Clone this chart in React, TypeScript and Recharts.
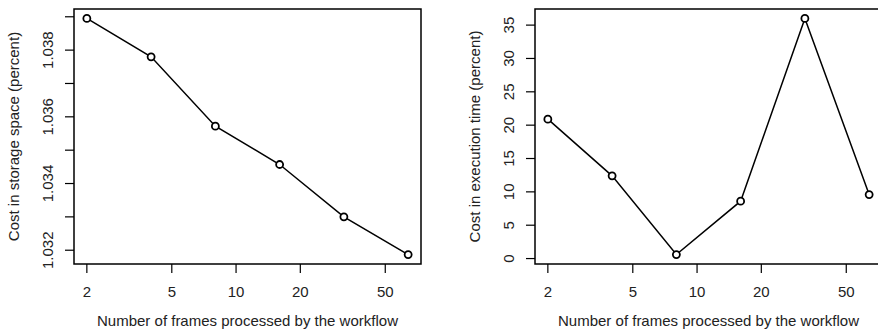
import { LineChart, Line, XAxis, YAxis, ReferenceArea } from "recharts";

// frames processed (x, log scale)
const frames = [2, 4, 8, 16, 32, 64];
// left panel: cost in storage space (percent)
const storageCost = [1.03895, 1.0378, 1.03572, 1.03457, 1.033, 1.03187];
// right panel: cost in execution time (percent)
const timeCost = [20.9, 12.4, 0.6, 8.6, 36.0, 9.6];

const xTicks = [2, 5, 10, 20, 50];
const storageTicks = [1.032, 1.033, 1.034, 1.035, 1.036, 1.037, 1.038, 1.039];
const storageLabels = [1.032, 1.034, 1.036, 1.038];
const timeTicks = [0, 5, 10, 15, 20, 25, 30, 35];

const FONT = '"Liberation Sans", Arial, Helvetica, sans-serif';
const TEXT = "#222";
const FS = 15;

// R style 4% padding on each side
const padLin = (v: number[]): [number, number] => {
  const lo = Math.min(...v);
  const hi = Math.max(...v);
  const d = (hi - lo) * 0.04;
  return [lo - d, hi + d];
};
const padLog = (v: number[]): [number, number] => {
  const [lo, hi] = padLin(v.map((n) => Math.log(n)));
  return [Math.exp(lo), Math.exp(hi)];
};

const xDomain = padLog(frames);
const storageDomain = padLin(storageCost);
const timeDomain = padLin(timeCost);

const storageData = frames.map((f, i) => ({ x: f, y: storageCost[i] }));
const timeData = frames.map((f, i) => ({ x: f, y: timeCost[i] }));

const RotTick = (props: any) => {
  const { x, y, payload, labels } = props;
  const show = !labels || labels.some((l: number) => Math.abs(l - payload.value) < 1e-9);
  return (
    <text
      transform={`translate(${x},${y}) rotate(-90)`}
      textAnchor="middle"
      fontSize={FS}
      fontFamily={FONT}
      fill={TEXT}
    >
      {show ? String(payload.value) : ""}
    </text>
  );
};

type PanelProps = {
  data: { x: number; y: number }[];
  yDomain: [number, number];
  yTicks: number[];
  yLabels?: number[];
  yTitle: string;
  width: number;
  axisWidth: number;
  titleX: number;
};

function Panel({ data, yDomain, yTicks, yLabels, yTitle, width, axisWidth, titleX }: PanelProps) {
  const plotW = 347;
  return (
    <LineChart
      width={width}
      height={330}
      data={data}
      margin={{ top: 9, right: width - axisWidth - plotW, bottom: 0, left: 0 }}
    >
      <XAxis
        dataKey="x"
        type="number"
        scale="log"
        domain={xDomain}
        ticks={xTicks}
        interval={0}
        allowDataOverflow
        axisLine={false}
        tickSize={9}
        tickMargin={13}
        height={66}
        tickLine={{ stroke: "#000", strokeWidth: 1.2 }}
        tick={{ fontSize: FS, fontFamily: FONT, fill: TEXT }}
        label={(p: any) => {
          const vb = p.viewBox || { x: axisWidth, width: plotW };
          return (
            <text
              x={vb.x + vb.width / 2}
              y={326}
              textAnchor="middle"
              fontSize={FS}
              fontFamily={FONT}
              fill={TEXT}
            >
              Number of frames processed by the workflow
            </text>
          );
        }}
      />
      <YAxis
        type="number"
        domain={yDomain}
        ticks={yTicks}
        interval={0}
        allowDataOverflow
        axisLine={false}
        width={axisWidth}
        tickSize={9}
        tickMargin={12}
        tickLine={{ stroke: "#000", strokeWidth: 1.2 }}
        tick={<RotTick labels={yLabels} />}
        label={() => (
          <text
            transform={`translate(${titleX},${9 + 255 / 2}) rotate(-90)`}
            textAnchor="middle"
            fontSize={FS}
            fontFamily={FONT}
            fill={TEXT}
          >
            {yTitle}
          </text>
        )}
      />
      <ReferenceArea
        x1={xDomain[0]}
        x2={xDomain[1]}
        y1={yDomain[0]}
        y2={yDomain[1]}
        fill="none"
        stroke="#000"
        strokeWidth={1.5}
        ifOverflow="visible"
      />
      <Line
        type="linear"
        dataKey="y"
        stroke="#000"
        strokeWidth={1.5}
        dot={{ r: 3.5, stroke: "#000", strokeWidth: 1.8, fill: "#fff" }}
        isAnimationActive={false}
      />
    </LineChart>
  );
}

export default function App() {
  return (
    <div
      style={{
        position: "absolute",
        left: 0,
        top: 0,
        width: 878,
        height: 330,
        overflow: "hidden",
        background: "#fff",
      }}
    >
      <div style={{ position: "absolute", left: 0, top: 0 }}>
        <Panel
          data={storageData}
          yDomain={storageDomain}
          yTicks={storageTicks}
          yLabels={storageLabels}
          yTitle="Cost in storage space (percent)"
          width={440}
          axisWidth={74}
          titleX={19}
        />
      </div>
      <div style={{ position: "absolute", left: 440, top: 0 }}>
        <Panel
          data={timeData}
          yDomain={timeDomain}
          yTicks={timeTicks}
          yTitle="Cost in execution time (percent)"
          width={446}
          axisWidth={95}
          titleX={40}
        />
      </div>
    </div>
  );
}
